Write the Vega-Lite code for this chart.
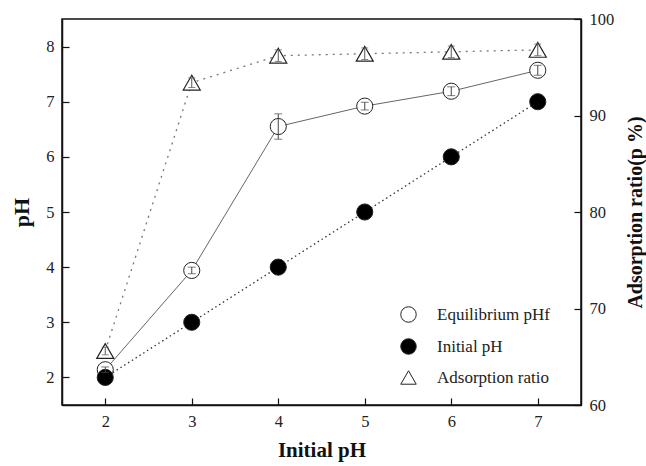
{
  "$schema": "https://vega.github.io/schema/vega-lite/v6.json",
  "width": 519,
  "height": 386,
  "autosize": {"type": "none"},
  "padding": {"left": 62, "top": 19, "right": 65, "bottom": 61},
  "background": "white",
  "config": {
    "font": "Liberation Serif",
    "view": {"stroke": "#111", "strokeWidth": 1.5},
    "axis": {
      "grid": false,
      "domainColor": "#111",
      "domainWidth": 1.5,
      "tickColor": "#111",
      "tickWidth": 1.2,
      "tickSize": -7,
      "labelFont": "Liberation Serif",
      "labelFontSize": 16.5,
      "labelColor": "#222",
      "labelPadding": 15,
      "titleFont": "Liberation Serif",
      "titleFontSize": 20,
      "titleFontWeight": "bold",
      "titleColor": "#111"
    },
    "legend": {
      "orient": "none",
      "legendX": 338,
      "legendY": 287,
      "title": null,
      "padding": 0,
      "labelFont": "Liberation Serif",
      "labelFontSize": 17,
      "labelColor": "#222",
      "symbolSize": 240,
      "symbolStrokeWidth": 1,
      "symbolStrokeColor": "#222",
      "labelOffset": 20,
      "rowPadding": 11
    }
  },
  "datasets": {
    "d": [
      {"series": "Equilibrium pHf", "x": 2, "ph": 2.14, "err": 0.05},
      {"series": "Equilibrium pHf", "x": 3, "ph": 3.94, "err": 0.06},
      {"series": "Equilibrium pHf", "x": 4, "ph": 6.55, "err": 0.23},
      {"series": "Equilibrium pHf", "x": 5, "ph": 6.92, "err": 0.07},
      {"series": "Equilibrium pHf", "x": 6, "ph": 7.19, "err": 0.08},
      {"series": "Equilibrium pHf", "x": 7, "ph": 7.57, "err": 0.09},
      {"series": "Initial pH", "x": 2, "ph": 2.0, "err": 0},
      {"series": "Initial pH", "x": 3, "ph": 3.0, "err": 0},
      {"series": "Initial pH", "x": 4, "ph": 4.0, "err": 0},
      {"series": "Initial pH", "x": 5, "ph": 5.0, "err": 0},
      {"series": "Initial pH", "x": 6, "ph": 6.0, "err": 0},
      {"series": "Initial pH", "x": 7, "ph": 7.0, "err": 0},
      {"series": "Adsorption ratio", "x": 2, "ads": 65.6, "err": 0.4},
      {"series": "Adsorption ratio", "x": 3, "ads": 93.4, "err": 0.5},
      {"series": "Adsorption ratio", "x": 4, "ads": 96.2, "err": 0.6},
      {"series": "Adsorption ratio", "x": 5, "ads": 96.4, "err": 0.6},
      {"series": "Adsorption ratio", "x": 6, "ads": 96.6, "err": 0.6},
      {"series": "Adsorption ratio", "x": 7, "ads": 96.8, "err": 0.6}
    ]
  },
  "data": {"name": "d"},
  "encoding": {
    "x": {
      "field": "x",
      "type": "quantitative",
      "scale": {"domain": [1.5, 7.5], "nice": false, "zero": false},
      "axis": {"values": [2, 3, 4, 5, 6, 7], "title": "Initial pH", "titlePadding": 10, "titleFontSize": 21}
    }
  },
  "layer": [
    {
      "transform": [{"filter": "datum.series !== 'Adsorption ratio'"}],
      "encoding": {
        "y": {
          "field": "ph",
          "type": "quantitative",
          "scale": {"domain": [1.5, 8.5], "nice": false, "zero": false},
          "axis": {"values": [2, 3, 4, 5, 6, 7, 8], "title": "pH", "orient": "left", "titlePadding": 12, "titleFontSize": 22}
        }
      },
      "layer": [
        {
          "transform": [{"filter": "datum.series === 'Equilibrium pHf'"}],
          "mark": {"type": "line", "strokeWidth": 1, "color": "#666"},
          "encoding": {}
        },
        {
          "transform": [{"filter": "datum.series === 'Initial pH'"}],
          "mark": {"type": "line", "strokeWidth": 1.3, "color": "#333", "strokeDash": [1.5, 3]},
          "encoding": {}
        },
        {
          "mark": {"type": "point", "filled": true, "opacity": 1, "size": 260, "stroke": "#222", "strokeWidth": 1},
          "encoding": {
            "shape": {
              "field": "series",
              "type": "nominal",
              "scale": {"domain": ["Equilibrium pHf", "Initial pH", "Adsorption ratio"], "range": ["circle", "circle", "triangle-up"]},
              "legend": {
                "symbolStrokeColor": "#222",
                "symbolFillColor": "white",
                "encode": {
                  "symbols": {
                    "update": {
                      "stroke": {"value": "#222"},
                      "strokeWidth": {"value": 1},
                      "fill": {"signal": "datum.value === 'Initial pH' ? 'black' : 'white'"}
                    }
                  }
                }
              }
            },
            "fill": {
              "field": "series",
              "type": "nominal",
              "scale": {"domain": ["Equilibrium pHf", "Initial pH", "Adsorption ratio"], "range": ["white", "black", "white"]},
              "legend": null
            }
          }
        },
        {
          "transform": [{"filter": "datum.series === 'Equilibrium pHf'"}],
          "mark": {"type": "errorbar", "ticks": {"size": 8}, "color": "#444"},
          "encoding": {"yError": {"field": "err"}}
        }
      ]
    },
    {
      "transform": [{"filter": "datum.series === 'Adsorption ratio'"}],
      "encoding": {
        "y": {
          "field": "ads",
          "type": "quantitative",
          "scale": {"domain": [60, 100], "nice": false, "zero": false},
          "axis": {"values": [60, 70, 80, 90, 100], "title": "Adsorption ratio(p %)", "orient": "right", "titleAngle": 270, "titlePadding": 32}
        }
      },
      "layer": [
        {
          "mark": {"type": "line", "strokeWidth": 1.3, "color": "#777", "strokeDash": [2, 5]},
          "encoding": {}
        },
        {
          "mark": {"type": "point", "filled": true, "opacity": 1, "size": 290, "stroke": "#222", "strokeWidth": 1.2},
          "encoding": {
            "shape": {"field": "series", "type": "nominal"},
            "fill": {"field": "series", "type": "nominal", "legend": null}
          }
        },
        {
          "mark": {"type": "errorbar", "ticks": {"size": 7}, "color": "#555"},
          "encoding": {"yError": {"field": "err"}}
        }
      ]
    }
  ],
  "resolve": {"scale": {"y": "independent"}, "axis": {"y": "independent"}}
}
